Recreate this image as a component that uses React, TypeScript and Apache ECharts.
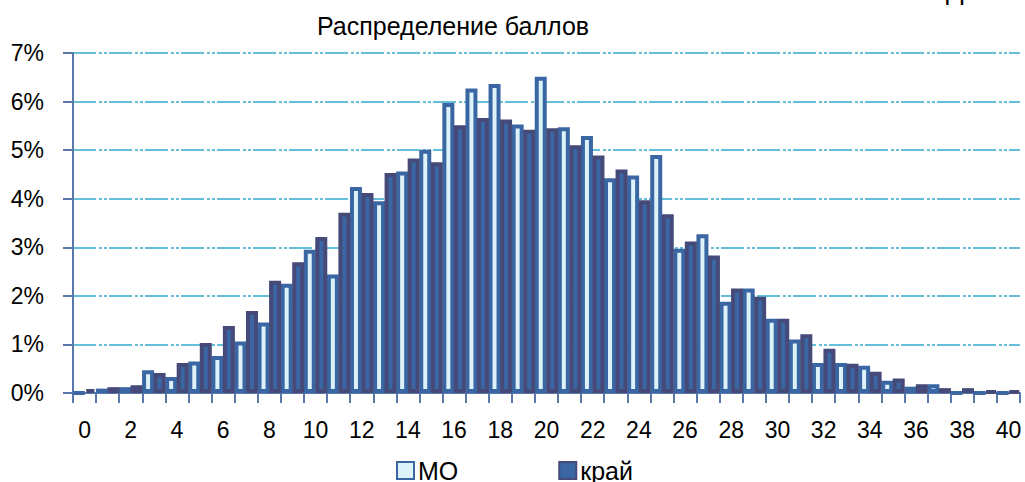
import React, { useEffect, useRef } from "react";
import * as echarts from "echarts";

const categories: string[] = Array.from({ length: 41 }, (_, i) => String(i));

const moValues: number[] = [
  0, 0.09, 0.12, 0.47, 0.33, 0.65, 0.76, 1.06, 1.45, 2.25,
  2.95, 2.44, 4.24, 3.95, 4.56, 5.01, 5.97, 6.27, 6.36, 5.53,
  6.51, 5.47, 5.29, 4.42, 4.48, 4.9, 2.97, 3.27, 1.88, 2.15,
  1.53, 1.1, 0.62, 0.62, 0.56, 0.25, 0.13, 0.18, 0, 0, 0,
];

const kraiValues: number[] = [
  0.08, 0.12, 0.16, 0.41, 0.62, 1.03, 1.38, 1.69, 2.31, 2.69,
  3.21, 3.71, 4.12, 4.53, 4.83, 4.75, 5.51, 5.66, 5.63, 5.42,
  5.45, 5.1, 4.89, 4.6, 3.97, 3.68, 3.12, 2.83, 2.15, 1.98,
  1.53, 1.21, 0.91, 0.6, 0.44, 0.3, 0.18, 0.1, 0.1, 0.04, 0.04,
];

const seriesNames = ["МО", "край"];
const titleText = "Распределение баллов";

const FONT = "'Liberation Sans', Arial, sans-serif";
const BLUE = "#3a66a3";
const NAVY = "#454a79";
const LIGHT = "#def3f9";

export default function App() {
  const ref = useRef<HTMLDivElement>(null);
  useEffect(() => {
    if (!ref.current) return;
    const chart = echarts.init(ref.current, undefined, { renderer: "svg" });
    chart.setOption({
      animation: false,
      backgroundColor: "#ffffff",
      title: {
        text: titleText,
        left: 312,
        top: 8,
        textStyle: { fontFamily: FONT, fontSize: 25, fontWeight: "normal", color: "#000" },
      },
      graphic: [
        {
          type: "text",
          left: 946,
          top: -22,
          style: { text: "Д", fontFamily: FONT, fontSize: 26, fill: "#000" },
        },
      ],
      legend: {
        data: seriesNames,
        left: 396,
        top: 458,
        padding: 0,
        itemWidth: 17,
        itemHeight: 17,
        itemGap: 100,
        icon: "rect",
        textStyle: {
          fontFamily: FONT,
          fontSize: 25,
          lineHeight: 22,
          color: "#000",
          padding: [0, 0, 0, -1],
        },
      },
      grid: { left: 73, right: 5, top: 53, bottom: 89, containLabel: false },
      xAxis: {
        type: "category",
        data: categories,
        boundaryGap: true,
        axisLine: { lineStyle: { color: "#5a78aa", width: 2 } },
        axisTick: { show: true, interval: 0, length: 10, lineStyle: { color: "#5a78aa", width: 2 } },
        axisLabel: { interval: 1, fontFamily: FONT, fontSize: 23, color: "#000", margin: 25 },
        splitLine: { show: false },
      },
      yAxis: {
        type: "value",
        min: 0,
        max: 7,
        interval: 1,
        axisLine: { show: true, lineStyle: { color: "#5a78aa", width: 2 } },
        axisTick: { show: true, length: 10, lineStyle: { color: "#5a78aa", width: 2 } },
        axisLabel: {
          fontFamily: FONT,
          fontSize: 23,
          color: "#000",
          margin: 29,
          formatter: (v: number) => `${v}%`,
        },
        splitLine: {
          show: true,
          lineStyle: { color: "#34abcb", width: 1.5, type: [23, 3, 3, 2, 3, 2] },
        },
      },
      series: [
        {
          name: seriesNames[0],
          type: "bar",
          data: moValues,
          barWidth: 12,
          barGap: "-4%",
          itemStyle: { color: LIGHT, borderColor: BLUE, borderWidth: 4 },
        },
        {
          name: seriesNames[1],
          type: "bar",
          data: kraiValues,
          barWidth: 12,
          barGap: "-4%",
          itemStyle: { color: BLUE, borderColor: NAVY, borderWidth: 4 },
        },
      ],
    });
    return () => chart.dispose();
  }, []);
  return <div ref={ref} style={{ width: 1025, height: 482, position: "absolute", left: 0, top: 0 }} />;
}
